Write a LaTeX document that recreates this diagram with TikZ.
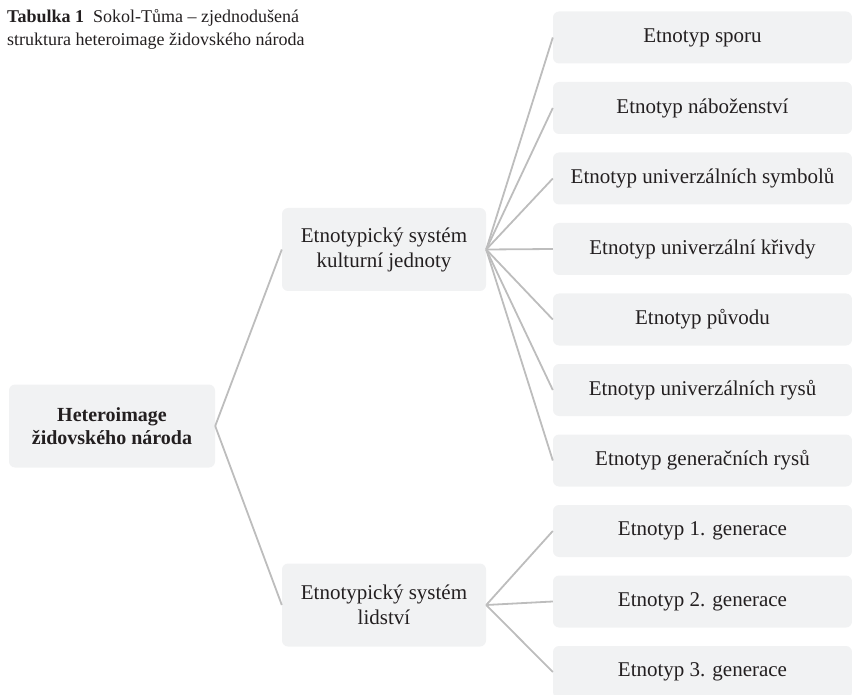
\documentclass[tikz,border=0pt]{standalone}
\usepackage{fontspec}
\setmainfont{Liberation Serif}
\definecolor{boxgray}{HTML}{F1F2F3}
\definecolor{linegray}{HTML}{BDBDBD}
\definecolor{inkdark}{HTML}{231F20}
\tikzset{
  box/.style={fill=boxgray, rounded corners=6pt, align=center, inner sep=0pt,
    text=inkdark, font=\fontsize{21}{25}\selectfont},
  root/.style={box, minimum width=206pt, minimum height=83pt,
    font=\fontsize{20}{23}\selectfont\bfseries},
  sys/.style={box, minimum width=204pt, minimum height=83pt},
  leaf/.style={box, minimum width=299pt, minimum height=52pt},
  link/.style={draw=linegray, line width=1.8pt}
}
\begin{document}
\begin{tikzpicture}[x=1pt,y=-1pt]
  \useasboundingbox (0,0) rectangle (852,695);
  \node[anchor=north west, align=left, inner sep=0pt, text=inkdark,
    font=\fontsize{18}{23}\selectfont] (title) at (7,9)
    {\textbf{Tabulka 1}\enspace Sokol-Tůma – zjednodušená\\
     struktura heteroimage židovského národa};
  \draw
    (112,426) node[root] (het){Heteroimage\\židovského národa}
    (384,249.5) node[sys] (kult){Etnotypický systém\\kulturní jednoty}
    (384,605) node[sys] (lid){Etnotypický systém\\lidství}
    (702.5,37.5) node[leaf] (spor){Etnotyp sporu}
    (702.5,108) node[leaf] (nab){Etnotyp náboženství}
    (702.5,178.5) node[leaf] (sym){Etnotyp univerzálních symbolů}
    (702.5,249) node[leaf] (kriv){Etnotyp univerzální křivdy}
    (702.5,319.5) node[leaf] (puv){Etnotyp původu}
    (702.5,390) node[leaf] (urys){Etnotyp univerzálních rysů}
    (702.5,460.5) node[leaf] (grys){Etnotyp generačních rysů}
    (702.5,531) node[leaf] (gen1){Etnotyp 1. generace}
    (702.5,601.5) node[leaf] (gen2){Etnotyp 2. generace}
    (702.5,672) node[leaf] (gen3){Etnotyp 3. generace};
  \begin{scope}[link]
    \draw (het.east) to (kult.west);
    \draw (het.east) to (lid.west);
    \draw (kult.east) to (spor.west);
    \draw (kult.east) to (nab.west);
    \draw (kult.east) to (sym.west);
    \draw (kult.east) to (kriv.west);
    \draw (kult.east) to (puv.west);
    \draw (kult.east) to (urys.west);
    \draw (kult.east) to (grys.west);
    \draw (lid.east) to (gen1.west);
    \draw (lid.east) to (gen2.west);
    \draw (lid.east) to (gen3.west);
  \end{scope}
\end{tikzpicture}
\end{document}
